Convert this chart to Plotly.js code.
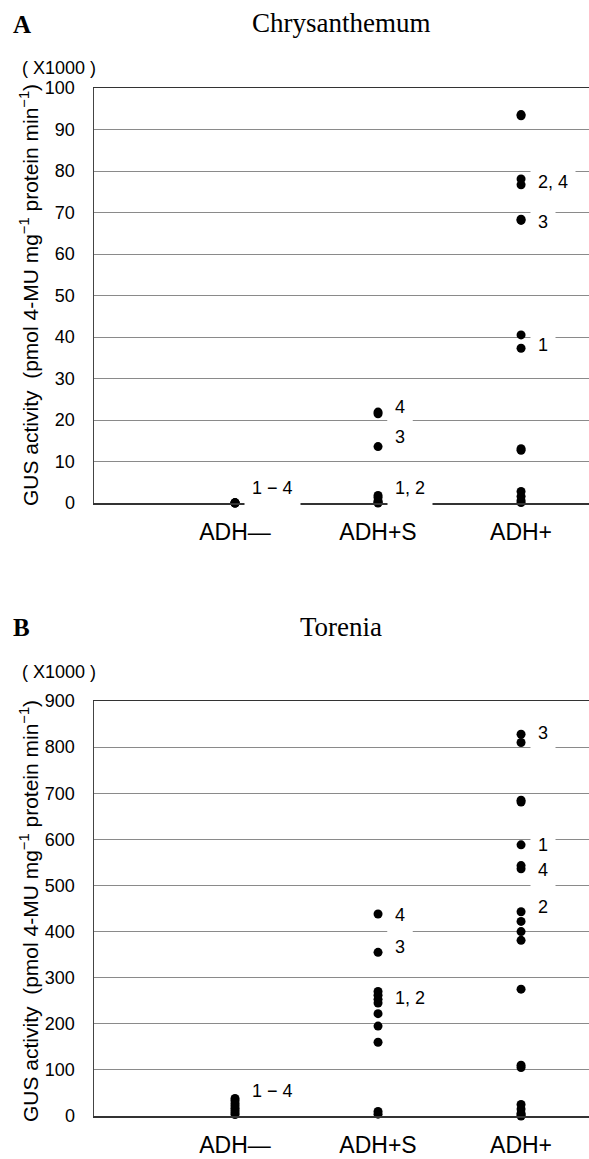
<!DOCTYPE html>
<html>
<head>
<meta charset="utf-8">
<script src="https://cdn.plot.ly/plotly-3.0.1.min.js"></script>
<style>html,body{margin:0;padding:0;background:#fff;}#chart{width:589px;height:1159px;}</style>
</head>
<body>
<div id="chart"></div>
<script>
// ---- data ----
const categories = ['ADH\u2014', 'ADH+S', 'ADH+'];
const categoryPos = [1, 2, 3];

// Panel A: Chrysanthemum (x1000 pmol 4-MU mg-1 protein min-1)
const chrysAdhMinus = [0.1, 0, 0, 0];
const chrysAdhS = [21.9, 21.5, 13.6, 1.8, 1.3, 0.5, 0.2, 0];
const chrysAdhPlus = [93.6, 93.3, 78.1, 76.7, 68.4, 68.1, 40.5, 37.3, 13.1, 12.7, 2.8, 1.6, 0.6, 0.1];
const chrysTicks = [0, 10, 20, 30, 40, 50, 60, 70, 80, 90, 100];
const chrysLabelText = ['1 \u2212 4', '4', '3', '1, 2', '2, 4', '3', '1'];
const chrysLabelCat = [1, 2, 2, 2, 3, 3, 3];
const chrysLabelY = [3.6, 23.2, 15.9, 3.6, 77.4, 67.8, 38.1];

// Panel B: Torenia
const toreniaAdhMinus = [38, 33, 27, 22, 17, 12, 7, 3];
const toreniaAdhS = [438, 355, 270, 262, 253, 245, 222, 195, 160, 10, 4];
const toreniaAdhPlus = [828, 810, 685, 681, 588, 543, 536, 443, 422, 400, 381, 275, 110, 105, 25, 15, 6, 2, 0];
const toreniaTicks = [0, 100, 200, 300, 400, 500, 600, 700, 800, 900];
const toreniaLabelText = ['1 \u2212 4', '4', '3', '1, 2', '3', '1', '4', '2'];
const toreniaLabelCat = [1, 2, 2, 2, 3, 3, 3, 3];
const toreniaLabelY = [55, 436, 367, 255, 831, 588, 534, 453];

// ---- styling / build ----
const W = 589, H = 1159;
const sans = 'Liberation Sans, Arial, sans-serif';
const serif = 'Liberation Serif, Times New Roman, serif';
const px = v => v / W;
const py = v => 1 - v / H;

function pointsTrace(cat, vals, xaxis, yaxis) {
  return {
    type: 'scatter', mode: 'markers',
    x: vals.map(() => cat), y: vals,
    xaxis: xaxis, yaxis: yaxis,
    marker: {color: '#000', size: 9},
    cliponaxis: false, hoverinfo: 'y'
  };
}

const traces = [
  pointsTrace(categoryPos[0], chrysAdhMinus, 'x', 'y'),
  pointsTrace(categoryPos[1], chrysAdhS, 'x', 'y'),
  pointsTrace(categoryPos[2], chrysAdhPlus, 'x', 'y'),
  pointsTrace(categoryPos[0], toreniaAdhMinus, 'x2', 'y2'),
  pointsTrace(categoryPos[1], toreniaAdhS, 'x2', 'y2'),
  pointsTrace(categoryPos[2], toreniaAdhPlus, 'x2', 'y2')
];

function xAxis(anchor) {
  return {
    domain: [px(94), 1], anchor: anchor,
    range: [0.014, 3.475], tickvals: categoryPos, ticktext: categories,
    showgrid: false, zeroline: false,
    showline: true, mirror: true, linecolor: '#333', linewidth: 1.5,
    ticks: '', ticklabelstandoff: 8,
    tickfont: {family: sans, size: 23, color: '#000'}, fixedrange: true
  };
}
function yAxis(domain, ticks, anchor) {
  return {
    domain: domain, anchor: anchor,
    range: [0, ticks[ticks.length - 1]], tickvals: ticks,
    showgrid: true, gridcolor: '#8a8a8a', gridwidth: 1,
    zeroline: true, zerolinecolor: '#000', zerolinewidth: 2,
    showline: true, linecolor: '#444', linewidth: 1.5,
    ticks: '', ticklabelstandoff: 14,
    tickfont: {family: sans, size: 18, color: '#000'}, fixedrange: true
  };
}

function labelAnns(texts, cats, ys, xref, yref) {
  return texts.map((t, i) => ({
    x: cats[i], y: ys[i], xref: xref, yref: yref,
    text: t, showarrow: false, xanchor: 'left', yanchor: 'middle',
    xshift: 9, bgcolor: '#fff', borderpad: 7,
    font: {family: sans, size: 18, color: '#000'}
  }));
}

const yTitle = 'GUS activity\u00a0\u00a0(pmol 4-MU mg<sup>\u22121</sup> protein min<sup>\u22121</sup>)';

const annotations = [
  {xref: 'paper', yref: 'paper', x: px(11), y: py(25), xanchor: 'left', yanchor: 'middle',
   text: '<b>A</b>', showarrow: false, font: {family: serif, size: 25, color: '#000'}},
  {xref: 'paper', yref: 'paper', x: px(341), y: py(23), xanchor: 'center', yanchor: 'middle',
   text: 'Chrysanthemum', showarrow: false, font: {family: serif, size: 27, color: '#000'}},
  {xref: 'paper', yref: 'paper', x: px(20), y: py(68), xanchor: 'left', yanchor: 'middle',
   text: '( X1000 )', showarrow: false, font: {family: sans, size: 18, color: '#000'}},
  {xref: 'paper', yref: 'paper', x: px(29), y: py(295), xanchor: 'center', yanchor: 'middle',
   text: yTitle, textangle: -90, showarrow: false, font: {family: sans, size: 21, color: '#000'}},
  {xref: 'paper', yref: 'paper', x: px(11), y: py(627), xanchor: 'left', yanchor: 'middle',
   text: '<b>B</b>', showarrow: false, font: {family: serif, size: 25, color: '#000'}},
  {xref: 'paper', yref: 'paper', x: px(341), y: py(627), xanchor: 'center', yanchor: 'middle',
   text: 'Torenia', showarrow: false, font: {family: serif, size: 27, color: '#000'}},
  {xref: 'paper', yref: 'paper', x: px(20), y: py(672), xanchor: 'left', yanchor: 'middle',
   text: '( X1000 )', showarrow: false, font: {family: sans, size: 18, color: '#000'}},
  {xref: 'paper', yref: 'paper', x: px(29), y: py(911), xanchor: 'center', yanchor: 'middle',
   text: yTitle, textangle: -90, showarrow: false, font: {family: sans, size: 21, color: '#000'}}
].concat(labelAnns(chrysLabelText, chrysLabelCat, chrysLabelY, 'x', 'y'))
 .concat(labelAnns(toreniaLabelText, toreniaLabelCat, toreniaLabelY, 'x2', 'y2'));

const layout = {
  width: W, height: H,
  margin: {l: 0, r: 0, t: 0, b: 0},
  paper_bgcolor: '#fff', plot_bgcolor: '#fff',
  showlegend: false,
  xaxis: xAxis('y'),
  xaxis2: xAxis('y2'),
  yaxis: yAxis([py(503), py(88)], chrysTicks, 'x'),
  yaxis2: yAxis([py(1116), py(701)], toreniaTicks, 'x2'),
  annotations: annotations
};

Plotly.newPlot('chart', traces, layout, {staticPlot: true, displayModeBar: false});
</script>
</body>
</html>
